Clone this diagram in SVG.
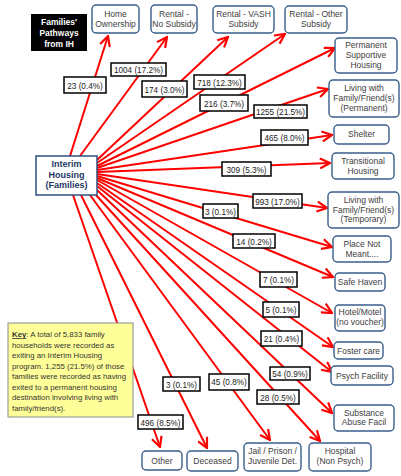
<svg xmlns="http://www.w3.org/2000/svg" width="401" height="476" viewBox="0 0 401 476">
<style>
  text{font-family:"Liberation Sans",Arial,sans-serif;}
  .node rect{fill:#fff;stroke:#385D8A;stroke-width:1.4;}
  .node text{font-size:8.5px;fill:#404040;text-anchor:middle;}
  .lbl rect{fill:#fff;stroke:#000;stroke-width:1.5;}
  .lbl text{font-size:8.2px;fill:#222;text-anchor:middle;}
  .conn line{stroke:#FF0000;stroke-width:2;marker-end:url(#ah);}
  .key text{font-size:7.8px;fill:#333;}
</style>
<defs>
  <marker id="ah" viewBox="0 0 12 12" refX="11" refY="6" markerWidth="12" markerHeight="12" markerUnits="userSpaceOnUse" orient="auto">
    <path d="M1,1 L11,6 L1,11" fill="none" stroke="#FF0000" stroke-width="2.2"/>
  </marker>
</defs>
<rect width="401" height="476" fill="#fff"/>

<g id="title">
  <rect x="31" y="14" width="56" height="37" fill="#000"/>
  <text x="59" y="25" font-size="8.5" font-weight="bold" fill="#fff" text-anchor="middle">Families'</text>
  <text x="59" y="36" font-size="8.5" font-weight="bold" fill="#fff" text-anchor="middle">Pathways</text>
  <text x="59" y="47" font-size="8.5" font-weight="bold" fill="#fff" text-anchor="middle">from IH</text>
</g>

<g id="connectors" class="conn">
  <line x1="70" y1="156" x2="108" y2="36"/>
  <line x1="80" y1="156" x2="167" y2="37"/>
  <line x1="97" y1="160" x2="228" y2="37"/>
  <line x1="97" y1="163" x2="285" y2="34"/>
  <line x1="97" y1="166" x2="335" y2="48"/>
  <line x1="97" y1="168" x2="328" y2="89"/>
  <line x1="97" y1="170" x2="332" y2="135"/>
  <line x1="97" y1="172" x2="330" y2="163"/>
  <line x1="97" y1="174" x2="327" y2="208"/>
  <line x1="97" y1="176" x2="332" y2="247"/>
  <line x1="97" y1="178" x2="333" y2="277"/>
  <line x1="97" y1="180" x2="332" y2="313"/>
  <line x1="97" y1="183" x2="333" y2="347"/>
  <line x1="97" y1="186" x2="332" y2="372"/>
  <line x1="97" y1="190" x2="332" y2="413"/>
  <line x1="96" y1="195" x2="320" y2="441"/>
  <line x1="90" y1="195" x2="270" y2="440"/>
  <line x1="81" y1="195" x2="207" y2="448"/>
  <line x1="73" y1="195" x2="160" y2="447"/>
</g>

<g id="ih">
  <rect x="36" y="156" width="61" height="39" fill="#fff" stroke="#2F4F7F" stroke-width="1.5"/>
  <text x="66.5" y="167" font-size="9" font-weight="bold" fill="#1F3864" text-anchor="middle">Interim</text>
  <text x="66.5" y="177.5" font-size="9" font-weight="bold" fill="#1F3864" text-anchor="middle">Housing</text>
  <text x="66.5" y="188" font-size="9" font-weight="bold" fill="#1F3864" text-anchor="middle">(Families)</text>
</g>

<g id="n-home" class="node"><rect x="92" y="5" width="47" height="28" rx="4"/><text x="115.5" y="17">Home</text><text x="115.5" y="27">Ownership</text></g>
<g id="n-rns" class="node"><rect x="151" y="5" width="46" height="28" rx="4"/><text x="174" y="17">Rental -</text><text x="174" y="27">No Subsidy</text></g>
<g id="n-vash" class="node"><rect x="213" y="6" width="61" height="27" rx="4"/><text x="243.5" y="17">Rental - VASH</text><text x="243.5" y="27">Subsidy</text></g>
<g id="n-ros" class="node"><rect x="285" y="6" width="62" height="27" rx="4"/><text x="316" y="17">Rental - Other</text><text x="316" y="27">Subsidy</text></g>
<g id="n-psh" class="node"><rect x="335" y="38" width="62" height="35" rx="4"/><text x="366" y="48">Permanent</text><text x="366" y="58">Supportive</text><text x="366" y="67.5">Housing</text></g>
<g id="n-lwp" class="node"><rect x="329" y="80" width="70" height="37" rx="4"/><text x="364" y="91">Living with</text><text x="364" y="101">Family/Friend(s)</text><text x="364" y="111">(Permanent)</text></g>
<g id="n-shelter" class="node"><rect x="334" y="125" width="55" height="19" rx="4"/><text x="361.5" y="137">Shelter</text></g>
<g id="n-trans" class="node"><rect x="332" y="153" width="62" height="26" rx="4"/><text x="363" y="164">Transitional</text><text x="363" y="173.5">Housing</text></g>
<g id="n-lwt" class="node"><rect x="328" y="192" width="71" height="36" rx="4"/><text x="363.5" y="203">Living with</text><text x="363.5" y="212.5">Family/Friend(s)</text><text x="363.5" y="222">(Temporary)</text></g>
<g id="n-place" class="node"><rect x="333" y="236" width="58" height="26" rx="4"/><text x="362" y="247">Place Not</text><text x="362" y="256.5">Meant....</text></g>
<g id="n-safe" class="node"><rect x="335" y="273" width="50" height="18" rx="4"/><text x="360" y="285">Safe Haven</text></g>
<g id="n-hotel" class="node"><rect x="335" y="305" width="50" height="26" rx="4"/><text x="360" y="315">Hotel/Motel</text><text x="360" y="325">(no voucher)</text></g>
<g id="n-foster" class="node"><rect x="334" y="342" width="49" height="17" rx="4"/><text x="358.5" y="353.5">Foster care</text></g>
<g id="n-psych" class="node"><rect x="331" y="366" width="62" height="19" rx="4"/><text x="362" y="378.5">Psych Facility</text></g>
<g id="n-subst" class="node"><rect x="334" y="405" width="60" height="26" rx="4"/><text x="364" y="415.5">Substance</text><text x="364" y="425">Abuse Facil</text></g>
<g id="n-hosp" class="node"><rect x="309" y="443" width="62" height="28" rx="4"/><text x="340" y="454">Hospital</text><text x="340" y="464">(Non Psych)</text></g>
<g id="n-jail" class="node"><rect x="244" y="443" width="57" height="28" rx="4"/><text x="272.5" y="454">Jail / Prison /</text><text x="272.5" y="464">Juvenile Det.</text></g>
<g id="n-dec" class="node"><rect x="187" y="451" width="51" height="20" rx="4"/><text x="212.5" y="464">Deceased</text></g>
<g id="n-other" class="node"><rect x="142" y="451" width="40" height="19" rx="4"/><text x="162" y="463.5">Other</text></g>

<g id="labels" class="lbl">
  <g><rect x="64" y="77" width="42" height="16"/><text x="85" y="88.5">23 (0.4%)</text></g>
  <g><rect x="111" y="63" width="55" height="13"/><text x="138.5" y="73">1004 (17.2%)</text></g>
  <g><rect x="142" y="81" width="45" height="16"/><text x="164.5" y="92.5">174 (3.0%)</text></g>
  <g><rect x="194" y="75" width="51" height="14"/><text x="219.5" y="85.5">718 (12.3%)</text></g>
  <g><rect x="200" y="95" width="48" height="16"/><text x="224" y="106.5">216 (3.7%)</text></g>
  <g><rect x="254" y="105" width="53" height="13"/><text x="280.5" y="115">1255 (21.5%)</text></g>
  <g><rect x="261" y="130" width="47" height="15"/><text x="284.5" y="141">465 (8.0%)</text></g>
  <g><rect x="222" y="162" width="49" height="14"/><text x="246.5" y="172.5">309 (5.3%)</text></g>
  <g><rect x="253" y="194" width="49" height="14"/><text x="277.5" y="204.5">993 (17.0%)</text></g>
  <g><rect x="203" y="204" width="35" height="14"/><text x="220.5" y="214.5">3 (0.1%)</text></g>
  <g><rect x="233" y="234" width="42" height="14"/><text x="254" y="244.5">14 (0.2%)</text></g>
  <g><rect x="260" y="272" width="37" height="15"/><text x="278.5" y="283">7 (0.1%)</text></g>
  <g><rect x="263" y="302" width="36" height="15"/><text x="281" y="313">5 (0.1%)</text></g>
  <g><rect x="261" y="331" width="41" height="15"/><text x="281.5" y="342">21 (0.4%)</text></g>
  <g><rect x="270" y="367" width="40" height="13"/><text x="290" y="377">54 (0.9%)</text></g>
  <g><rect x="257" y="390" width="42" height="14"/><text x="278" y="400.5">28 (0.5%)</text></g>
  <g><rect x="209" y="374" width="40" height="16"/><text x="229" y="385">45 (0.8%)</text></g>
  <g><rect x="163" y="377" width="37" height="14"/><text x="181.5" y="387.5">3 (0.1%)</text></g>
  <g><rect x="138" y="415" width="45" height="14"/><text x="160.5" y="425.5">496 (8.5%)</text></g>
</g>

<g id="key" class="key">
  <rect x="8" y="323" width="125" height="94" fill="#FFFF99" stroke="#8C8C8C" stroke-width="1"/>
  <text x="12" y="337"><tspan font-weight="bold" text-decoration="underline">Key</tspan>: A total of 5,833 family</text>
  <text x="12" y="347.5">households were recorded as</text>
  <text x="12" y="358">exiting an Interim Housing</text>
  <text x="12" y="368.5">program.  1,255 (21.5%) of those</text>
  <text x="12" y="379">families were recorded as having</text>
  <text x="12" y="389.5">exited to a permanent housing</text>
  <text x="12" y="400">destination involving living with</text>
  <text x="12" y="410.5">family/friend(s).</text>
</g>
</svg>
